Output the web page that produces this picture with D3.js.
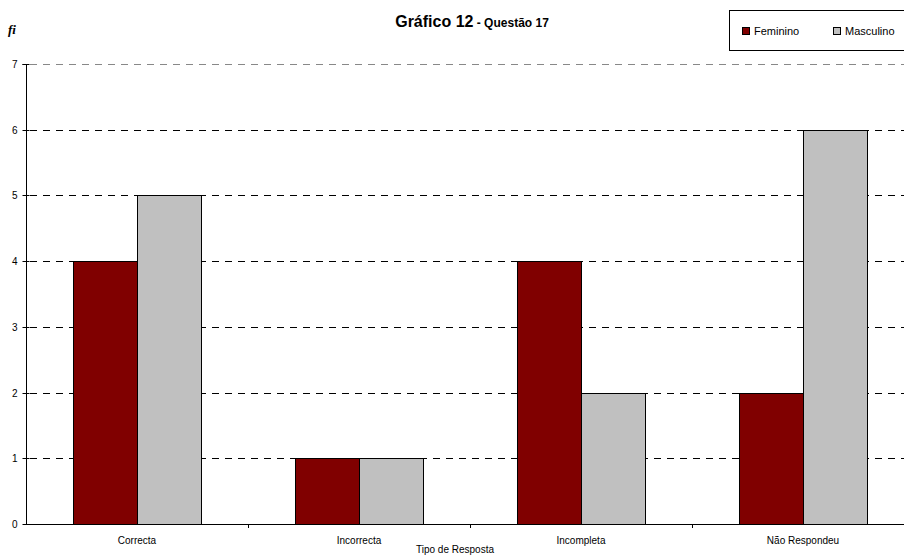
<!DOCTYPE html>
<html><head><meta charset="utf-8">
<script src="https://cdn.jsdelivr.net/npm/d3@7"></script>
<style>body{margin:0;background:#fff;overflow:hidden}svg{display:block;font-family:Arial,"Liberation Sans",sans-serif}</style>
</head><body><svg id="c" width="904" height="556"></svg>
<script>
const categories = ["Correcta","Incorrecta","Incompleta","Não Respondeu"];
const seriesNames = ["Feminino","Masculino"];
const feminino = [4,1,4,2];
const masculino = [5,1,2,6];
const yTicks = [0,1,2,3,4,5,6,7];
const colors = ["#800000","#C0C0C0"];

(function(){
const svg = d3.select("#c");
const mL = 26, mR = 914, mT = 64, mB = 524;
const x = d3.scaleBand().domain(categories).range([mL,mR]).paddingInner(0.4234).paddingOuter(0.2117);
const xFull = d3.scaleBand().domain(categories).range([mL,mR]);
const xs = d3.scaleBand().domain(seriesNames).range([0,x.bandwidth()]);
const y = d3.scaleLinear().domain([0,7]).range([mB,mT]);

// gridlines
svg.append("g").selectAll("line").data(yTicks.filter(d=>d>0)).join("line")
  .attr("x1",mL+4).attr("x2",904).attr("y1",d=>Math.round(y(d))+0.5).attr("y2",d=>Math.round(y(d))+0.5)
  .attr("stroke",d=>d===7?"#888":"#000").attr("stroke-dasharray","7,6").attr("stroke-width",1);

// bars
const data = categories.map((c,i)=>({c, vals:[feminino[i],masculino[i]]}));
const g = svg.append("g").selectAll("g").data(data).join("g")
  .attr("transform",d=>`translate(${x(d.c)},0)`);
g.selectAll("rect").data(d=>d.vals.map((v,j)=>({v,s:seriesNames[j],j}))).join("rect")
  .attr("x",d=>xs(d.s)+0.5).attr("width",xs.bandwidth())
  .attr("y",d=>Math.round(y(d.v))+0.5).attr("height",d=>mB-Math.round(y(d.v)))
  .attr("fill",d=>colors[d.j]).attr("stroke","#000").attr("stroke-width",1);

// y axis
const ya = d3.axisLeft(y).tickValues(yTicks).tickSize(4).tickPadding(5).tickFormat(d3.format("d"));
svg.append("g").attr("transform",`translate(${mL+0.5},0)`).call(ya)
  .call(g=>g.select(".domain").attr("d",`M-4,${mT+0.5}H0V${mB+0.5}`))
  .call(g=>g.selectAll(".tick").attr("transform",d=>`translate(0,${Math.round(y(d))+0.5})`))
  .call(g=>g.selectAll(".tick line").attr("x1",3))
  .call(g=>g.selectAll("text").attr("font-size",10).attr("font-family","Arial"));

// x axis
svg.append("line").attr("x1",mL).attr("x2",904).attr("y1",mB+0.5).attr("y2",mB+0.5).attr("stroke","#000");
svg.append("g").selectAll("line").data(categories.slice(1)).join("line")
  .attr("x1",d=>Math.round(xFull(d))+0.5).attr("x2",d=>Math.round(xFull(d))+0.5)
  .attr("y1",mB).attr("y2",mB+4).attr("stroke","#000");
svg.append("g").selectAll("text").data(categories).join("text")
  .attr("x",d=>xFull(d)+xFull.bandwidth()/2).attr("y",544)
  .attr("text-anchor","middle").attr("font-size",10).text(d=>d);

svg.append("text").attr("x",455).attr("y",553).attr("text-anchor","middle").attr("font-size",10).text("Tipo de Resposta");

// fi label
svg.append("text").attr("x",8).attr("y",34).attr("font-family","'Times New Roman','Liberation Serif',serif")
  .attr("font-style","italic").attr("font-weight","bold").attr("font-size",13).text("fi");

// title
const t = svg.append("text").attr("x",472).attr("y",27).attr("text-anchor","middle").attr("font-weight","bold");
t.append("tspan").attr("font-size",16).text("Gráfico 12");
t.append("tspan").attr("font-size",12).text(" - Questão 17");

// legend
svg.append("rect").attr("x",729.5).attr("y",10.5).attr("width",200).attr("height",40).attr("fill","#fff").attr("stroke","#000");
const lx = [742,833];
seriesNames.forEach((s,i)=>{
  svg.append("rect").attr("x",lx[i]+0.5).attr("y",27.5).attr("width",7).attr("height",7).attr("fill",colors[i]).attr("stroke","#000");
  svg.append("text").attr("x",lx[i]+12).attr("y",35).attr("font-size",11).text(s);
});
})();
</script></body></html>
